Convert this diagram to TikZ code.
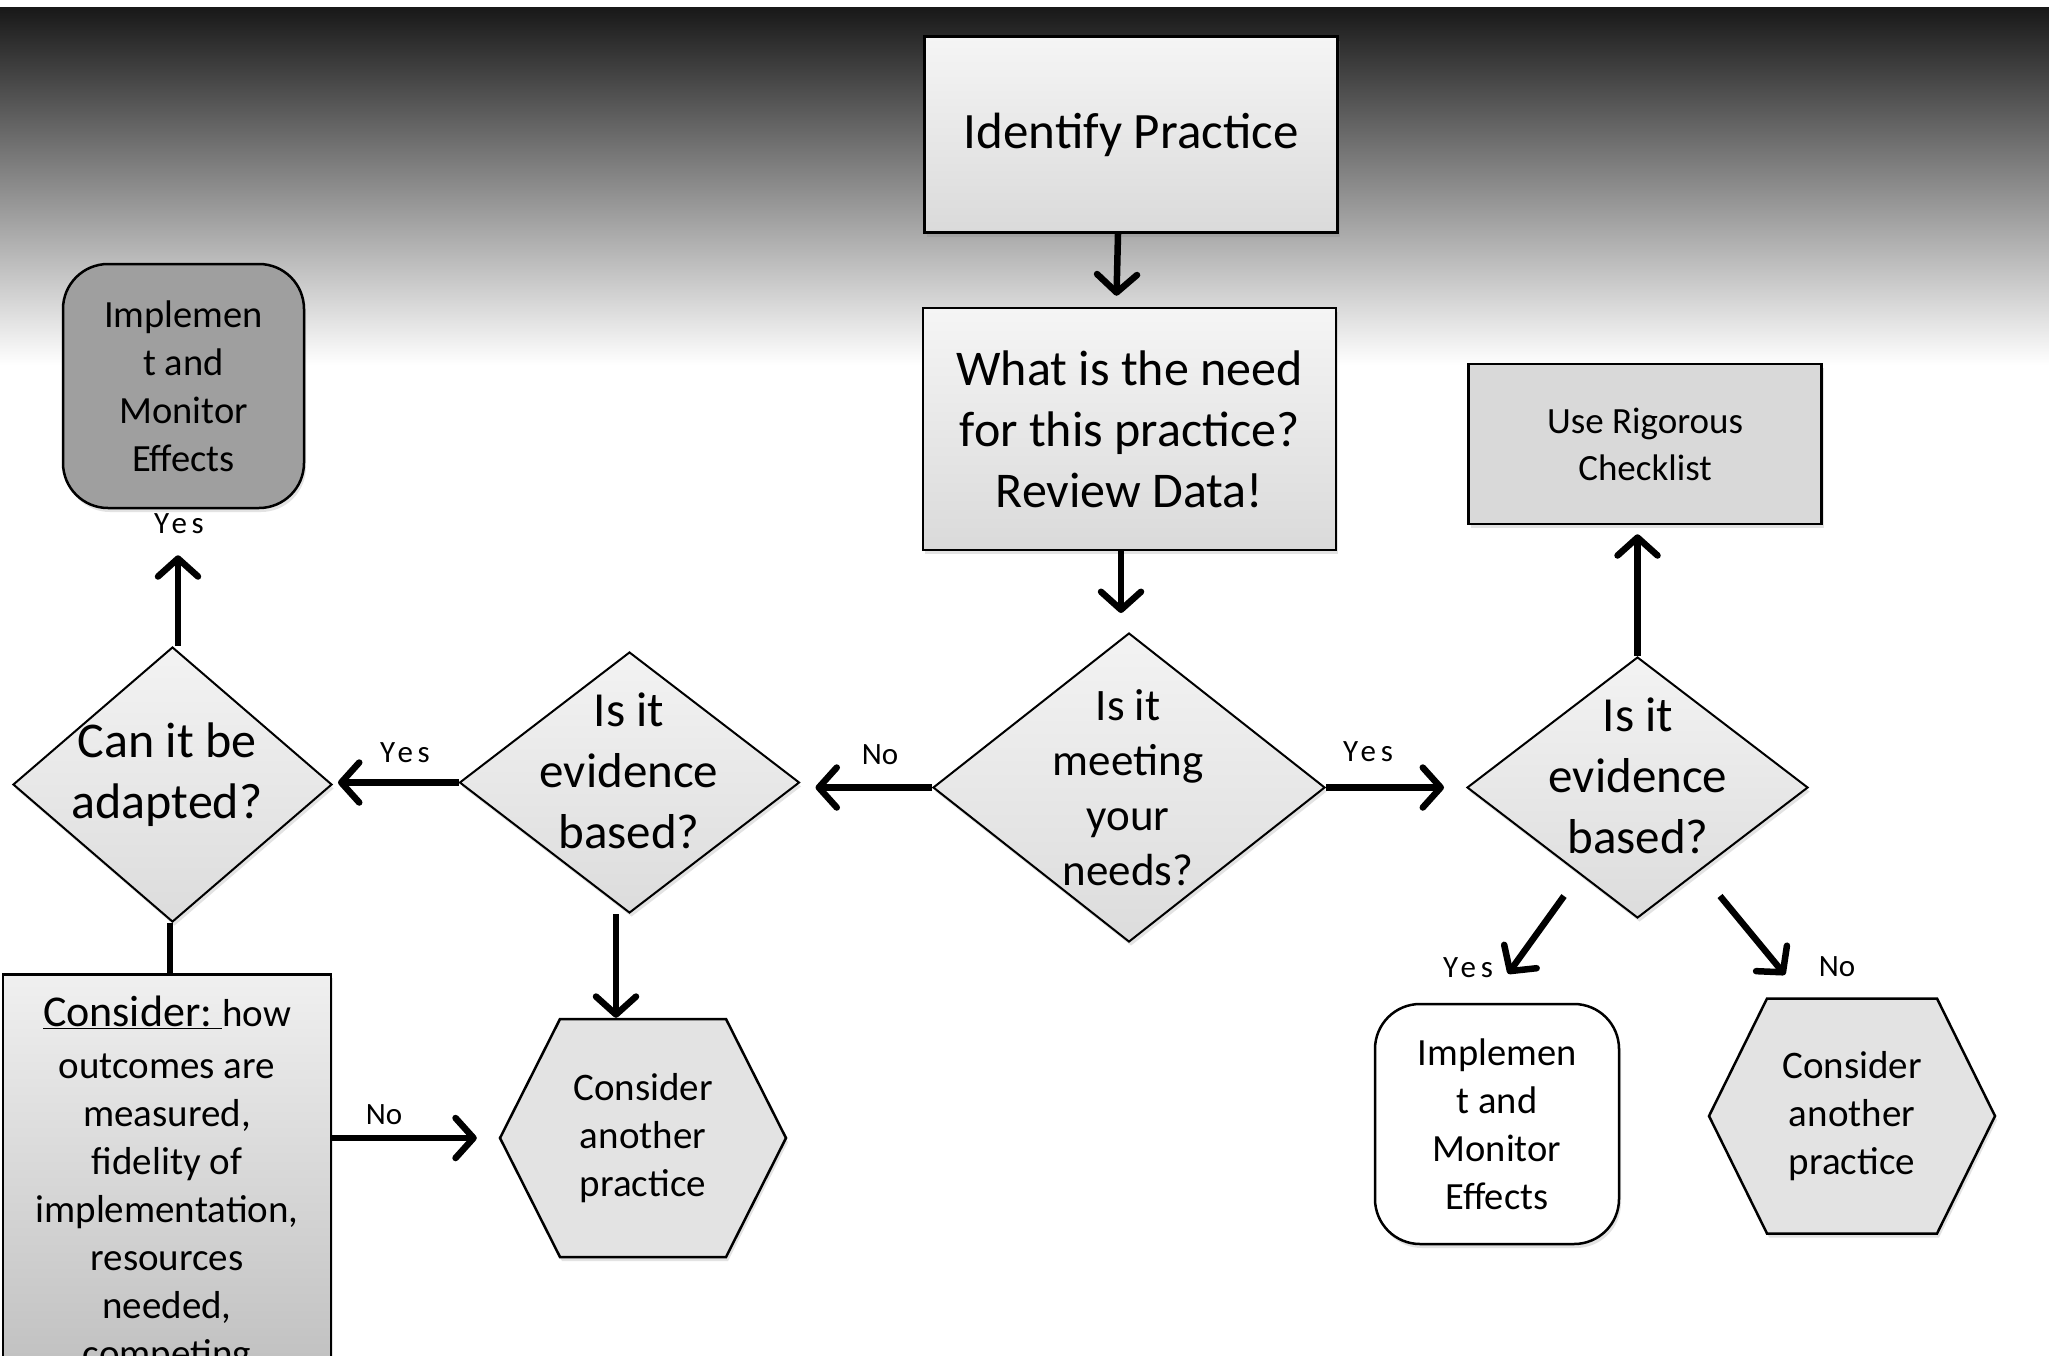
\documentclass[tikz,border=0pt]{standalone}
\usepackage{fontspec}
\setmainfont{Carlito}
\newfontfamily\yesfont[LetterSpace=15]{Carlito}
\usetikzlibrary{arrows.meta,shapes.geometric,shadows}
\definecolor{bandtop}{HTML}{181818}
\definecolor{boxtop}{HTML}{F5F5F5}
\definecolor{boxbot}{HTML}{DADADA}
\definecolor{diatop}{HTML}{F3F3F3}
\definecolor{diabot}{HTML}{DCDCDC}
\definecolor{hexfill}{HTML}{E3E3E3}
\definecolor{checkfill}{HTML}{D9D9D9}
\definecolor{implfill}{HTML}{9F9F9F}
\definecolor{constop}{HTML}{F0F0F0}
\definecolor{consbot}{HTML}{BBBBBB}
\begin{document}
\begin{tikzpicture}[x=1pt,y=-1pt,
  shd/.style={drop shadow={opacity=0.22,shadow xshift=2pt,shadow yshift=-4pt}},
  box/.style={rectangle,draw=black,line width=2.5pt,inner sep=0pt,align=center,shd},
  dia/.style={diamond,draw=black,line width=2pt,inner sep=0pt,top color=diatop,bottom color=diabot,shd},
  dtxt/.style={align=center,inner sep=0pt},
  hexshape/.style={draw=black,line width=2.5pt,fill=hexfill,line join=miter,shd},
  arr/.style={line width=6.5pt,-{Straight Barb[length=18pt,width=40pt,line cap=round,line join=round]}},
  ln/.style={line width=6.5pt},
  yeslbl/.style={font=\yesfont\fontsize{31}{37}\selectfont,inner sep=0pt},
  nolbl/.style={font=\fontsize{31}{37}\selectfont,inner sep=0pt}
]
\clip (0,0) rectangle (2049,1355);
\fill[white] (0,0) rectangle (2049,1355);
% dark band fading into the page at the top
\shade[top color=bandtop,bottom color=white] (0,7) rectangle (2049,365);

% boxes
\node[box,minimum width=413pt,minimum height=196pt,top color=boxtop,bottom color=boxbot,
      font=\fontsize{51}{61}\selectfont] (idp) at (1131,134.5) {Identify Practice};
\node[box,minimum width=413pt,minimum height=242pt,top color=boxtop,bottom color=boxbot,
      font=\fontsize{50}{61}\selectfont] (need) at (1129.5,429) {What is the need\\for this practice?\\Review Data!};
\node[box,minimum width=353pt,minimum height=160pt,fill=checkfill,
      font=\fontsize{37}{47}\selectfont] (rig) at (1645,444) {Use Rigorous\\Checklist};
\node[box,rounded corners=45pt,minimum width=241pt,minimum height=244pt,fill=implfill,
      font=\fontsize{38.5}{48}\selectfont] (implA) at (183.5,386) {Implemen\\t and\\Monitor\\Effects};
\node[box,rounded corners=45pt,minimum width=244pt,minimum height=240pt,fill=white,
      font=\fontsize{38.5}{48}\selectfont] (implB) at (1497,1124) {Implemen\\t and\\Monitor\\Effects};

% decisions
\node[dia,minimum width=319pt,minimum height=275pt] (adapt) at (172.5,784.5) {};
\node[dtxt,font=\fontsize{50}{61}\selectfont] (adaptT) at (167,775) {Can it be\\adapted?};
\node[dia,minimum width=340pt,minimum height=261pt] (evL) at (629.5,782.5) {};
\node[dtxt,font=\fontsize{49}{61}\selectfont] (evLT) at (629,771) {Is it\\evidence\\based?};
\node[dia,minimum width=392pt,minimum height=309pt] (meet) at (1129,787.5) {};
\node[dtxt,font=\fontsize{45}{55}\selectfont] (meetT) at (1128,788) {Is it\\meeting\\your\\needs?};
\node[dia,minimum width=341pt,minimum height=261pt] (evR) at (1637.5,787.5) {};
\node[dtxt,font=\fontsize{49}{61}\selectfont] (evRT) at (1638,776) {Is it\\evidence\\based?};

% list of points to weigh
\node[box,minimum width=328pt,minimum height=440pt,top color=constop,bottom color=consbot,anchor=north] (cons) at (167,973) {};
\node[dtxt,anchor=north,font=\fontsize{39}{48}\selectfont] (consT) at (167,996)
  {{\fontsize{44}{48}\selectfont\underline{Consider:\ }}how\\[4pt]outcomes are\\measured,\\fidelity of\\implementation,\\resources\\needed,\\competing};

% hexagons
\coordinate (hAc) at (643,1138);
\draw[hexshape] ([xshift=-143pt]hAc) -- ([xshift=-83pt,yshift=119pt]hAc) -- ([xshift=83pt,yshift=119pt]hAc)
  -- ([xshift=143pt]hAc) -- ([xshift=83pt,yshift=-119pt]hAc) -- ([xshift=-83pt,yshift=-119pt]hAc) -- cycle;
\node[dtxt,minimum width=286pt,minimum height=238pt,font=\fontsize{39}{48}\selectfont] (hexA) at (hAc) {Consider\\another\\practice};
\coordinate (hBc) at (1852,1116);
\draw[hexshape] ([xshift=-143pt]hBc) -- ([xshift=-85pt,yshift=117.5pt]hBc) -- ([xshift=85pt,yshift=117.5pt]hBc)
  -- ([xshift=143pt]hBc) -- ([xshift=85pt,yshift=-117.5pt]hBc) -- ([xshift=-85pt,yshift=-117.5pt]hBc) -- cycle;
\node[dtxt,minimum width=286pt,minimum height=235pt,font=\fontsize{39}{48}\selectfont] (hexB) at (hBc) {Consider\\another\\practice};

% connectors
\draw[arr] ([xshift=-13pt]idp.south) -- ([xshift=-13pt,yshift=11pt]need.north);
\draw[arr,shorten >=19pt] ([xshift=-8.5pt]need.south) -- ([xshift=-8.5pt]need.south |- meet.north);
\draw[arr,shorten >=15pt] (meet.west) -- (meet.west -| evL.east);
\node[nolbl] (noA) at (880,755) {No};
\draw[arr,shorten >=22pt] (meet.east) -- (meet.east -| evR.west);
\node[yeslbl] (yesA) at (1368,752) {Yes};
\draw[arr,shorten >=5pt] (evL.west) -- (evL.west -| adapt.east);
\node[yeslbl] (yesB) at (405,753) {Yes};
\draw[arr,shorten >=1pt] ([xshift=-13.5pt]evL.south) -- ([xshift=-13.5pt]evL.south |- hexA.north);
\draw[arr,shorten >=46pt] ([xshift=5.5pt]adapt.north) -- ([xshift=5.5pt]adapt.north |- implA.south);
\node[yeslbl] (yesC) at (179,524) {Yes};
\draw[ln] ([xshift=-2.5pt]adapt.south) -- ([xshift=-2.5pt]adapt.south |- cons.north);
\draw[arr,shorten >=23pt] (hexA.west -| cons.east) -- (hexA.west);
\node[nolbl] (noB) at (384,1115) {No};
\draw[arr,shorten >=9pt] (evR.north) -- (evR.north |- rig.south);
\draw[arr] ([xshift=-73.5pt,yshift=23pt]evR.south) -- ([xshift=11pt,yshift=29pt]implB.north);
\node[yeslbl] (yesD) at (1468,968) {Yes};
\draw[arr] ([xshift=82.5pt,yshift=23pt]evR.south) -- ([xshift=-67pt,yshift=23.5pt]hexB.north);
\node[nolbl] (noC) at (1837,967) {No};
\end{tikzpicture}
\end{document}
